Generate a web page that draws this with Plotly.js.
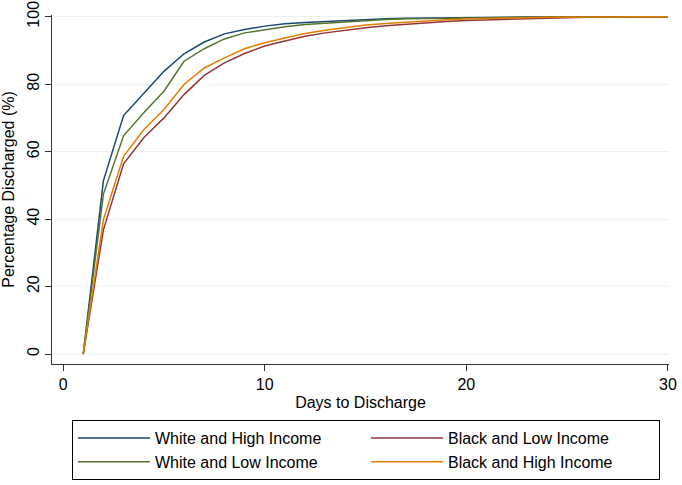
<!DOCTYPE html>
<html>
<head>
<meta charset="utf-8">
<script src="https://cdn.plot.ly/plotly-3.0.1.min.js"></script>
<style>html,body{margin:0;padding:0;background:#fff;}#chart{width:682px;height:485px;}</style>
</head>
<body>
<div id="chart"></div>
<script>
const days = [1,2,3,4,5,6,7,8,9,10,11,12,13,14,15,16,17,18,19,20,21,22,23,24,25,26,27,28,29,30];
const whiteHigh = [0,51.4,70.7,77.4,83.8,89.0,92.5,94.9,96.2,97.2,97.9,98.3,98.6,98.9,99.2,99.4,99.5,99.6,99.7,99.75,99.8,99.85,99.9,99.9,99.95,100,100,100,100,100];
const whiteLow = [0,47.4,64.7,71.5,77.9,86.8,90.5,93.4,95.2,96.2,97.0,97.7,98.1,98.5,98.9,99.2,99.4,99.5,99.6,99.7,99.75,99.8,99.85,99.9,99.9,99.95,100,100,100,100];
const blackHigh = [0,39.8,58.6,66.5,72.5,79.9,84.8,87.8,90.5,92.3,93.7,95.0,96.0,96.8,97.5,98.0,98.4,98.8,99.1,99.3,99.5,99.6,99.7,99.8,99.85,99.9,99.95,100,100,100];
const blackLow = [0,36.8,56.4,64.1,70.0,76.9,82.6,86.3,89.1,91.3,92.8,94.2,95.2,96.0,96.7,97.3,97.8,98.2,98.6,98.9,99.1,99.3,99.5,99.6,99.7,99.8,99.85,99.9,99.95,100];
const seriesNames = ["White and High Income","Black and Low Income","White and Low Income","Black and High Income"];
const xTicks = [0,10,20,30];
const yTicks = [0,20,40,60,80,100];

const colors = ["#1a476f","#90353b","#55752f","#e37e00"];
const ys = [whiteHigh, blackLow, whiteLow, blackHigh];
const traces = ys.map((y,i)=>({
  x: days, y: y, type:'scatter', mode:'lines', name: seriesNames[i],
  line:{color:colors[i], width:1.5}
}));

const font = {family:'"Liberation Sans", Arial, sans-serif', size:16, color:'#000'};
const layout = {
  width:682, height:485,
  margin:{l:52, r:13, t:15, b:121, autoexpand:false},
  paper_bgcolor:'#fff', plot_bgcolor:'#fff',
  font: font,
  showlegend:true,
  xaxis:{
    range:[-0.55,30.05], tickvals:xTicks, ticktext:xTicks.map(String),
    showgrid:false, zeroline:false, showline:true, linecolor:'#333', linewidth:1,
    ticks:'outside', ticklen:6, tickcolor:'#333', tickfont:font,
    title:{text:'Days to Discharge', font:font, standoff:4}
  },
  yaxis:{
    range:[-2.96,100.5], tickvals:yTicks, ticktext:yTicks.map(String),
    showgrid:true, gridcolor:'#eaf2f3', gridwidth:1, zeroline:false,
    showline:true, linecolor:'#333', linewidth:1,
    ticks:'outside', ticklen:6, tickcolor:'#333', tickangle:-90, tickfont:font,
    title:{text:'Percentage Discharged (%)', font:font, standoff:6}
  },
  legend:{
    orientation:'h', x:0.0324, xanchor:'left', y:-0.1605, yanchor:'top',
    bordercolor:'#000', borderwidth:1, font:font, tracegroupgap:0,
    entrywidth:206, entrywidthmode:'pixels', itemwidth:72
  }
};
Plotly.newPlot('chart', traces, layout, {displayModeBar:false, staticPlot:true});
</script>
</body>
</html>
